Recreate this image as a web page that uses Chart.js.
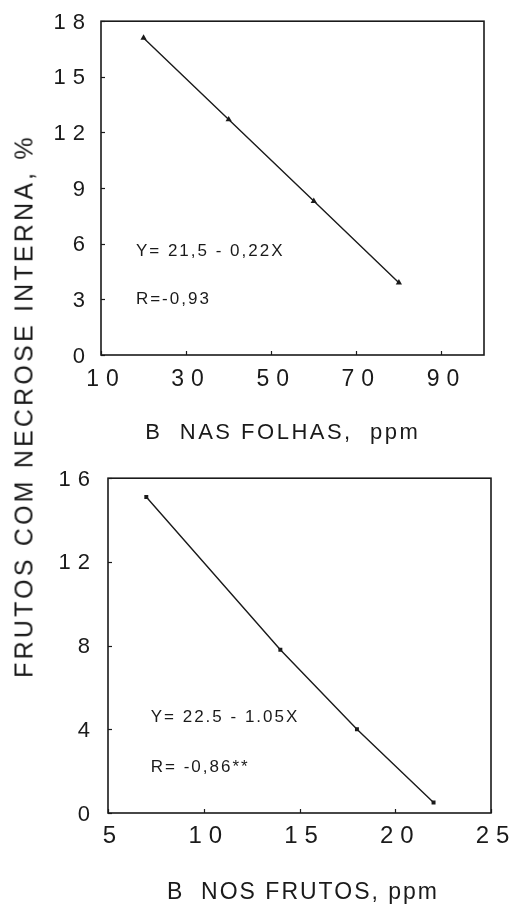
<!DOCTYPE html>
<html><head><meta charset="utf-8">
<script src="https://cdn.jsdelivr.net/npm/chart.js@4.4.1/dist/chart.umd.min.js"></script>
<style>
html,body{margin:0;padding:0;background:#fff;width:514px;height:909px;overflow:hidden;font-family:'Liberation Sans',Arial,sans-serif;}
#p1{position:absolute;left:0;top:0;width:514px;height:455px;}
#p2{position:absolute;left:0;top:455px;width:514px;height:454px;}
#ytitle{position:absolute;left:24px;top:406px;transform:translate(-50%,-50%) rotate(-90deg);white-space:nowrap;font-size:25px;letter-spacing:3.2px;line-height:1;color:#1a1a1a;}
</style></head><body>
<div id="p1"><canvas id="c1"></canvas></div>
<div id="p2"><canvas id="c2"></canvas></div>
<div id="ytitle">FRUTOS COM NECROSE INTERNA, %</div>
<script>
const FONT = "'Liberation Sans', Arial, Helvetica, sans-serif";
const INK = '#1a1a1a';

// Panel 1: B nas folhas
const folhasX = [20, 40, 60, 80];
const folhasY = [17.1, 12.7, 8.3, 3.9];
const folhasXTicks = [10, 30, 50, 70, 90];
const folhasYTicks = [0, 3, 6, 9, 12, 15, 18];
const folhasTitle = 'B  NAS FOLHAS,  ppm';
const folhasNotes = ['Y= 21,5 - 0,22X', 'R=-0,93'];

// Panel 2: B nos frutos
const frutosX = [7, 14, 18, 22];
const frutosY = [15.1, 7.8, 4.0, 0.5];
const frutosXTicks = [5, 10, 15, 20, 25];
const frutosYTicks = [0, 4, 8, 12, 16];
const frutosTitle = 'B  NOS FRUTOS, ppm';
const frutosNotes = ['Y= 22.5 - 1.05X', 'R= -0,86**'];

// letter spacing for scale text (patched per scale)
const spacingPlugin = {
  id: 'spacing',
  beforeDraw(chart, args, opts) {
    Object.values(chart.scales).forEach(scale => {
      if (scale._spacedPatched) return;
      scale._spacedPatched = true;
      const cfg = opts[scale.id] || {};
      const dl = scale.drawLabels, dt = scale.drawTitle;
      scale.drawLabels = function(area) {
        const c = this.ctx; c.save();
        c.letterSpacing = (cfg.labels || 0) + 'px';
        c.translate(cfg.dx || 0, cfg.dy || 0);
        dl.call(this, area); c.restore();
      };
      scale.drawTitle = function() {
        const c = this.ctx; c.save();
        c.letterSpacing = (cfg.title || 0) + 'px';
        c.translate(cfg.tdx || 0, 0);
        dt.call(this); c.restore();
      };
    });
  }
};

const framePlugin = {
  id: 'frame',
  afterDraw(chart, args, o) {
    const {ctx, chartArea: a, scales: {x, y}} = chart;
    ctx.save();
    ctx.strokeStyle = INK;
    ctx.lineWidth = 1.2;
    x.ticks.forEach(t => {
      const px = Math.round(x.getPixelForValue(t.value)) + 0.5;
      ctx.beginPath(); ctx.moveTo(px, a.bottom); ctx.lineTo(px, a.bottom - o.len); ctx.stroke();
    });
    y.ticks.forEach(t => {
      const py = Math.round(y.getPixelForValue(t.value)) + 0.5;
      ctx.beginPath(); ctx.moveTo(a.left, py); ctx.lineTo(a.left + o.len, py); ctx.stroke();
    });
    ctx.lineWidth = o.frame;
    ctx.strokeRect(a.left, a.top, a.right - a.left, a.bottom - a.top);
    ctx.fillStyle = INK;
    ctx.font = o.noteFont;
    ctx.letterSpacing = o.noteSpacing + 'px';
    ctx.textAlign = 'left';
    ctx.textBaseline = 'middle';
    o.notes.forEach(n => ctx.fillText(n.text, x.getPixelForValue(n.x), y.getPixelForValue(n.y)));
    ctx.restore();
  }
};

function fixedTicks(list) {
  return s => { s.ticks = list.map(v => ({value: v})); };
}

function makeChart(id, xs, ys, xTicks, yTicks, xr, yr, p) {
  return new Chart(document.getElementById(id), {
    type: 'line',
    data: {
      datasets: [{
        data: xs.map((v, i) => ({x: v, y: ys[i]})),
        borderColor: INK,
        borderWidth: 1.4,
        backgroundColor: INK,
        pointStyle: p.pointStyle,
        pointRadius: p.pointRadius,
        pointBorderWidth: 0,
        tension: 0,
        fill: false
      }]
    },
    options: {
      responsive: true,
      maintainAspectRatio: false,
      animation: false,
      events: [],
      layout: {padding: p.pad},
      plugins: {
        legend: {display: false},
        tooltip: {enabled: false},
        spacing: p.spacing,
        frame: {len: 4, frame: 1.6, noteFont: '17px ' + FONT, noteSpacing: p.noteSpacing, notes: p.notes}
      },
      scales: {
        x: {
          type: 'linear', min: xr[0], max: xr[1],
          afterBuildTicks: fixedTicks(xTicks),
          afterFit: s => { s.height = p.xH; },
          grid: {display: false},
          border: {display: false},
          ticks: {color: INK, font: {family: FONT, size: p.xFont}, padding: p.xPad, maxRotation: 0, autoSkip: false},
          title: {display: true, text: p.title, color: INK, font: {family: FONT, size: p.titleFont}, padding: {top: 0, bottom: p.titlePad}}
        },
        y: {
          type: 'linear', min: yr[0], max: yr[1],
          afterBuildTicks: fixedTicks(yTicks),
          afterFit: s => { s.width = p.yW; },
          grid: {display: false},
          border: {display: false},
          ticks: {color: INK, font: {family: FONT, size: p.yFont}, padding: p.yPad, autoSkip: false}
        }
      }
    },
    plugins: [spacingPlugin, framePlugin]
  });
}

makeChart('c1', folhasX, folhasY, folhasXTicks, folhasYTicks, [10, 100], [0, 18], {
  pointStyle: 'triangle', pointRadius: 3.6,
  pad: {left: 0, top: 21, right: 30, bottom: 0},
  xH: 100, yW: 101,
  xFont: 23, yFont: 22, xPad: 3, yPad: 8,
  title: folhasTitle, titleFont: 22, titlePad: 8.8,
  spacing: {x: {labels: 7, dx: 5, title: 2.5, tdx: -9.7}, y: {labels: 7, dx: 7, dy: 1.5}},
  noteSpacing: 2,
  notes: [{text: folhasNotes[0], x: 18.2, y: 5.6}, {text: folhasNotes[1], x: 18.2, y: 3.0}]
});

makeChart('c2', frutosX, frutosY, frutosXTicks, frutosYTicks, [5, 25], [0, 16], {
  pointStyle: 'rect', pointRadius: 2.8,
  pad: {left: 0, top: 17, right: 23, bottom: 0},
  xH: 96, yW: 108,
  xFont: 24, yFont: 22, xPad: 1, yPad: 10,
  title: frutosTitle, titleFont: 23, titlePad: 2.2,
  spacing: {x: {labels: 7, dx: 5, title: 2, tdx: 3.5}, y: {labels: 7, dx: 7, dy: 1.5}},
  noteSpacing: 2,
  notes: [{text: frutosNotes[0], x: 7.23, y: 4.55}, {text: frutosNotes[1], x: 7.23, y: 2.2}]
});
</script>
</body></html>
